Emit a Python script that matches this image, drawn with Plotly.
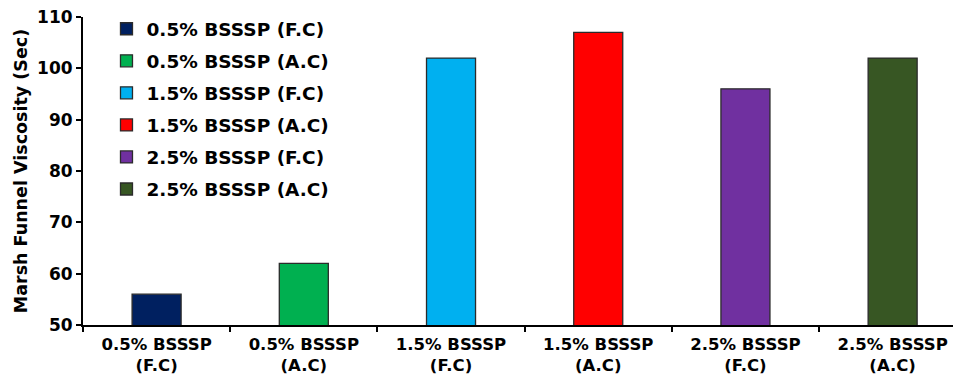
import plotly.graph_objects as go

# Marsh funnel viscosity for each BSSSP dosage and curing condition
categories = [
    "0.5% BSSSP<br>(F.C)",
    "0.5% BSSSP<br>(A.C)",
    "1.5% BSSSP<br>(F.C)",
    "1.5% BSSSP<br>(A.C)",
    "2.5% BSSSP<br>(F.C)",
    "2.5% BSSSP<br>(A.C)",
]
series_names = [
    "0.5% BSSSP (F.C)",
    "0.5% BSSSP (A.C)",
    "1.5% BSSSP (F.C)",
    "1.5% BSSSP (A.C)",
    "2.5% BSSSP (F.C)",
    "2.5% BSSSP (A.C)",
]
viscosity = [56, 62, 102, 107, 96, 102]
colors = ["#002060", "#00B050", "#00B0F0", "#FF0000", "#7030A0", "#375623"]
y_ticks = [50, 60, 70, 80, 90, 100, 110]

FONT = "DejaVu Sans, sans-serif"

fig = go.Figure()
for i, (cat, name, val, col) in enumerate(zip(categories, series_names, viscosity, colors)):
    fig.add_trace(go.Bar(
        x=[cat], y=[val], name=name,
        width=0.333,
        marker=dict(color=col, line=dict(color="#2b2b2b", width=1.3)),
        legendgroup=f"g{i}",
    ))

fig.update_layout(
    width=956, height=377,
    margin=dict(l=83, r=3, t=17, b=52),
    paper_bgcolor="white", plot_bgcolor="white",
    barmode="overlay",
    showlegend=True,
    legend=dict(
        x=0.027, y=1.022, xanchor="left", yanchor="top",
        font=dict(family=FONT, size=18.5, color="black", weight="bold"),
        bgcolor="rgba(0,0,0,0)",
        tracegroupgap=5,
        traceorder="grouped",
        maxheight=300,
    ),
    font=dict(family=FONT, color="black"),
)

fig.update_xaxes(
    type="category",
    categoryorder="array", categoryarray=categories,
    range=[-0.5, 5.41],
    showline=True, linecolor="black", linewidth=2,
    ticks="outside", tickson="boundaries", ticklen=5, tickwidth=2, tickcolor="black",
    tickfont=dict(family=FONT, size=16.5, color="black", weight="bold"),
    ticklabelstandoff=3,
    automargin=False,
    showgrid=False, zeroline=False,
)
fig.update_yaxes(
    range=[50, 110],
    tickvals=y_ticks,
    showline=True, linecolor="black", linewidth=2,
    ticks="outside", ticklen=5, tickwidth=2, tickcolor="black",
    tickfont=dict(family=FONT, size=17, color="black", weight="bold"),
    title=dict(text="Marsh Funnel Viscosity (Sec)",
               font=dict(family=FONT, size=17.5, color="black", weight="bold"),
               standoff=5),
    automargin=False,
    showgrid=False, zeroline=False,
)

fig.write_html("out.html")
